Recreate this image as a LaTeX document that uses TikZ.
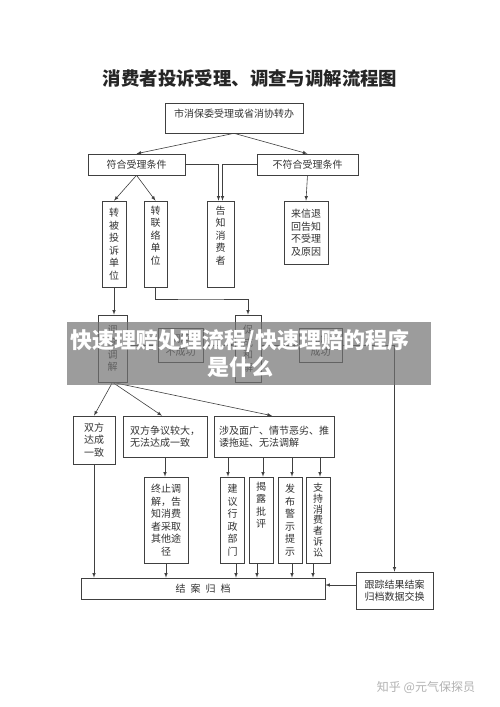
\documentclass[tikz,border=0pt]{standalone}
\usepackage{fontspec}
\setmainfont{Noto Sans CJK SC}
\usepackage{tikz}
\tikzset{ box/.style={draw=black!75,line width=0.6pt,text=black!80,font=\fontsize{10}{12.5}\selectfont,align=center,inner sep=1pt},
  line/.style={draw=black!75,line width=0.6pt},
  >=latex}

\begin{document}
\begin{tikzpicture}[x=1pt,y=-1pt]
  \path[fill=white,use as bounding box] (0,0) rectangle (500,707);

  \node[font=\fontsize{18.4}{20}\selectfont\bfseries,text=black!85] (title) at (250,78.5) {消费者投诉受理、调查与调解流程图};

  % acceptance
  \node[box,minimum width=138pt,minimum height=30pt,text depth=9pt] (shixiao) at (234,118) {市消保委受理或省消协转办};
  \node[box,minimum width=97pt,minimum height=21pt] (fuhe) at (136.5,164.5) {符合受理条件};
  \node[box,minimum width=101pt,minimum height=21pt] (bufuhe) at (307.5,164.5) {不符合受理条件};

  \node[box,minimum width=24pt,minimum height=86pt] (zhuanbei) at (114,244) {转\\被\\投\\诉\\单\\位};
  \node[box,minimum width=23pt,minimum height=86pt,text depth=17.5pt] (zhuanlian) at (155.5,244) {转\\联\\络\\单\\位};
  \node[box,minimum width=27pt,minimum height=86pt,text depth=17.5pt] (gaozhi) at (220.5,244) {告\\知\\消\\费\\者};
  \node[box,minimum width=44pt,minimum height=63pt] (laixin) at (306,232.5) {来信退\\回告知\\不受理\\及原因};

  % mediation
  \node[box,minimum width=29pt,minimum height=67pt] (tiaojie) at (112.5,348.5) {调\\查\\调\\解};
  \node[box,minimum width=45pt,minimum height=34pt] (bucg) at (180.5,345) {调解\\不成功};
  \node[box,minimum width=26pt,minimum height=67pt] (cuhe) at (248,348.5) {促\\成\\和\\解};
  \node[box,minimum width=43pt,minimum height=34pt] (chenggong) at (320.5,345) {和解\\成功};
  \coordinate (bend) at (200,299);

  \node[box,minimum width=42pt,minimum height=48pt] (yizhi) at (94,440) {双方\\达成\\一致};
  \node[box,minimum width=84pt,minimum height=41pt,align=left] (zhengyi) at (165,436.5) {双方争议较大，\\无法达成一致};
  \node[box,minimum width=120pt,minimum height=41pt,align=left] (sheji) at (274,436.5) {涉及面广、情节恶劣、推\\诿拖延、无法调解};

  \node[box,minimum width=44pt,minimum height=86pt] (zhongzhi) at (166,520) {终止调\\解，告\\知消费\\者采取\\其他途\\径};
  \foreach \name/\x/\txt in {jianyi/232.5/{建\\议\\行\\政\\部\\门}, fabu/290/{发\\布\\警\\示\\提\\示}}
    \node[box,minimum width=24pt,minimum height=86pt] (\name) at (\x,520) {\txt};
  \node[box,minimum width=24pt,minimum height=86pt,text depth=30pt] (jielu) at (261,520) {揭\\露\\批\\评};
  \node[box,minimum width=24pt,minimum height=86pt,font=\fontsize{10}{10.8}\selectfont] (zhichi) at (318,520) {支\\持\\消\\费\\者\\诉\\讼};

  \node[box,minimum width=244pt,minimum height=21pt] (jiean) at (203,588.5) {结\hspace{5pt}案\hspace{5pt}归\hspace{5pt}档};
  \node[box,minimum width=77pt,minimum height=37pt] (genzong) at (394.5,590.5) {跟踪结果结案\\归档数据交换};

  % connectors
  \draw[line,->] (shixiao.south) -- (fuhe.north);
  \draw[line,->] (shixiao.south) -- (bufuhe.north);
  \draw[line,->] (fuhe.east) -| ([xshift=-2pt]gaozhi.north);
  \draw[line,->] (bufuhe.west) -| ([xshift=2pt]gaozhi.north);
  \draw[line,->] (fuhe.south) -- (zhuanbei.north);
  \draw[line,->] (fuhe.south) -- (zhuanlian.north);
  \draw[line,->] (bufuhe.south) -- (laixin.north);
  \draw[line,->] (zhuanbei.south) -- (zhuanbei.south |- tiaojie.north);
  \draw[line,->] (zhuanlian.south) |- (bend) -| (cuhe.north);

  \foreach \from/\to in {tiaojie/bucg, bucg/cuhe, cuhe/chenggong}
    \draw[line,->] (\from.east |- bucg.center) -- (\to.west |- bucg.center);
  \draw[line,->] (chenggong.east) -| (genzong.north);

  \draw[line,->] (tiaojie.south) -- (yizhi.north);
  \draw[line,->] (tiaojie.south) -- ([xshift=-3pt]zhengyi.north);
  \draw[line,->] (tiaojie.south) -- ([xshift=-2pt]sheji.north);
  \draw[line,->] (zhengyi.south) -- (zhengyi.south |- zhongzhi.north);

  \foreach \b/\i/\o in {jianyi/-4.5/3.5, jielu/2/-4, fabu/2/2, zhichi/2/-5}{
    \draw[line,->] ([xshift=\i pt]\b.north |- sheji.south) -- ([xshift=\i pt]\b.north);
    \draw[line,->] ([xshift=\o pt]\b.south) -- ([xshift=\o pt]\b.south |- jiean.north);
  }
  \draw[line,->] (yizhi.south) -- (yizhi.south |- jiean.north);
  \draw[line,->] (zhongzhi.south) -- (zhongzhi.south |- jiean.north);
  \draw[line,->] (genzong.west |- 0,585) -- (jiean.east |- 0,585);

  % banner and mark
  \fill[black!55,opacity=0.7] (67,322) rectangle (431,385);
  \node[text=white,font=\fontsize{22}{27}\selectfont\bfseries,align=center] (banner) at (240,353.5) {快速理赔处理流程/快速理赔的程序\\是什么};
  \node[text=black!30,font=\fontsize{12}{14}\selectfont] (zhihu) at (426,687) {知乎 @元气保探员};
\end{tikzpicture}
\end{document}
